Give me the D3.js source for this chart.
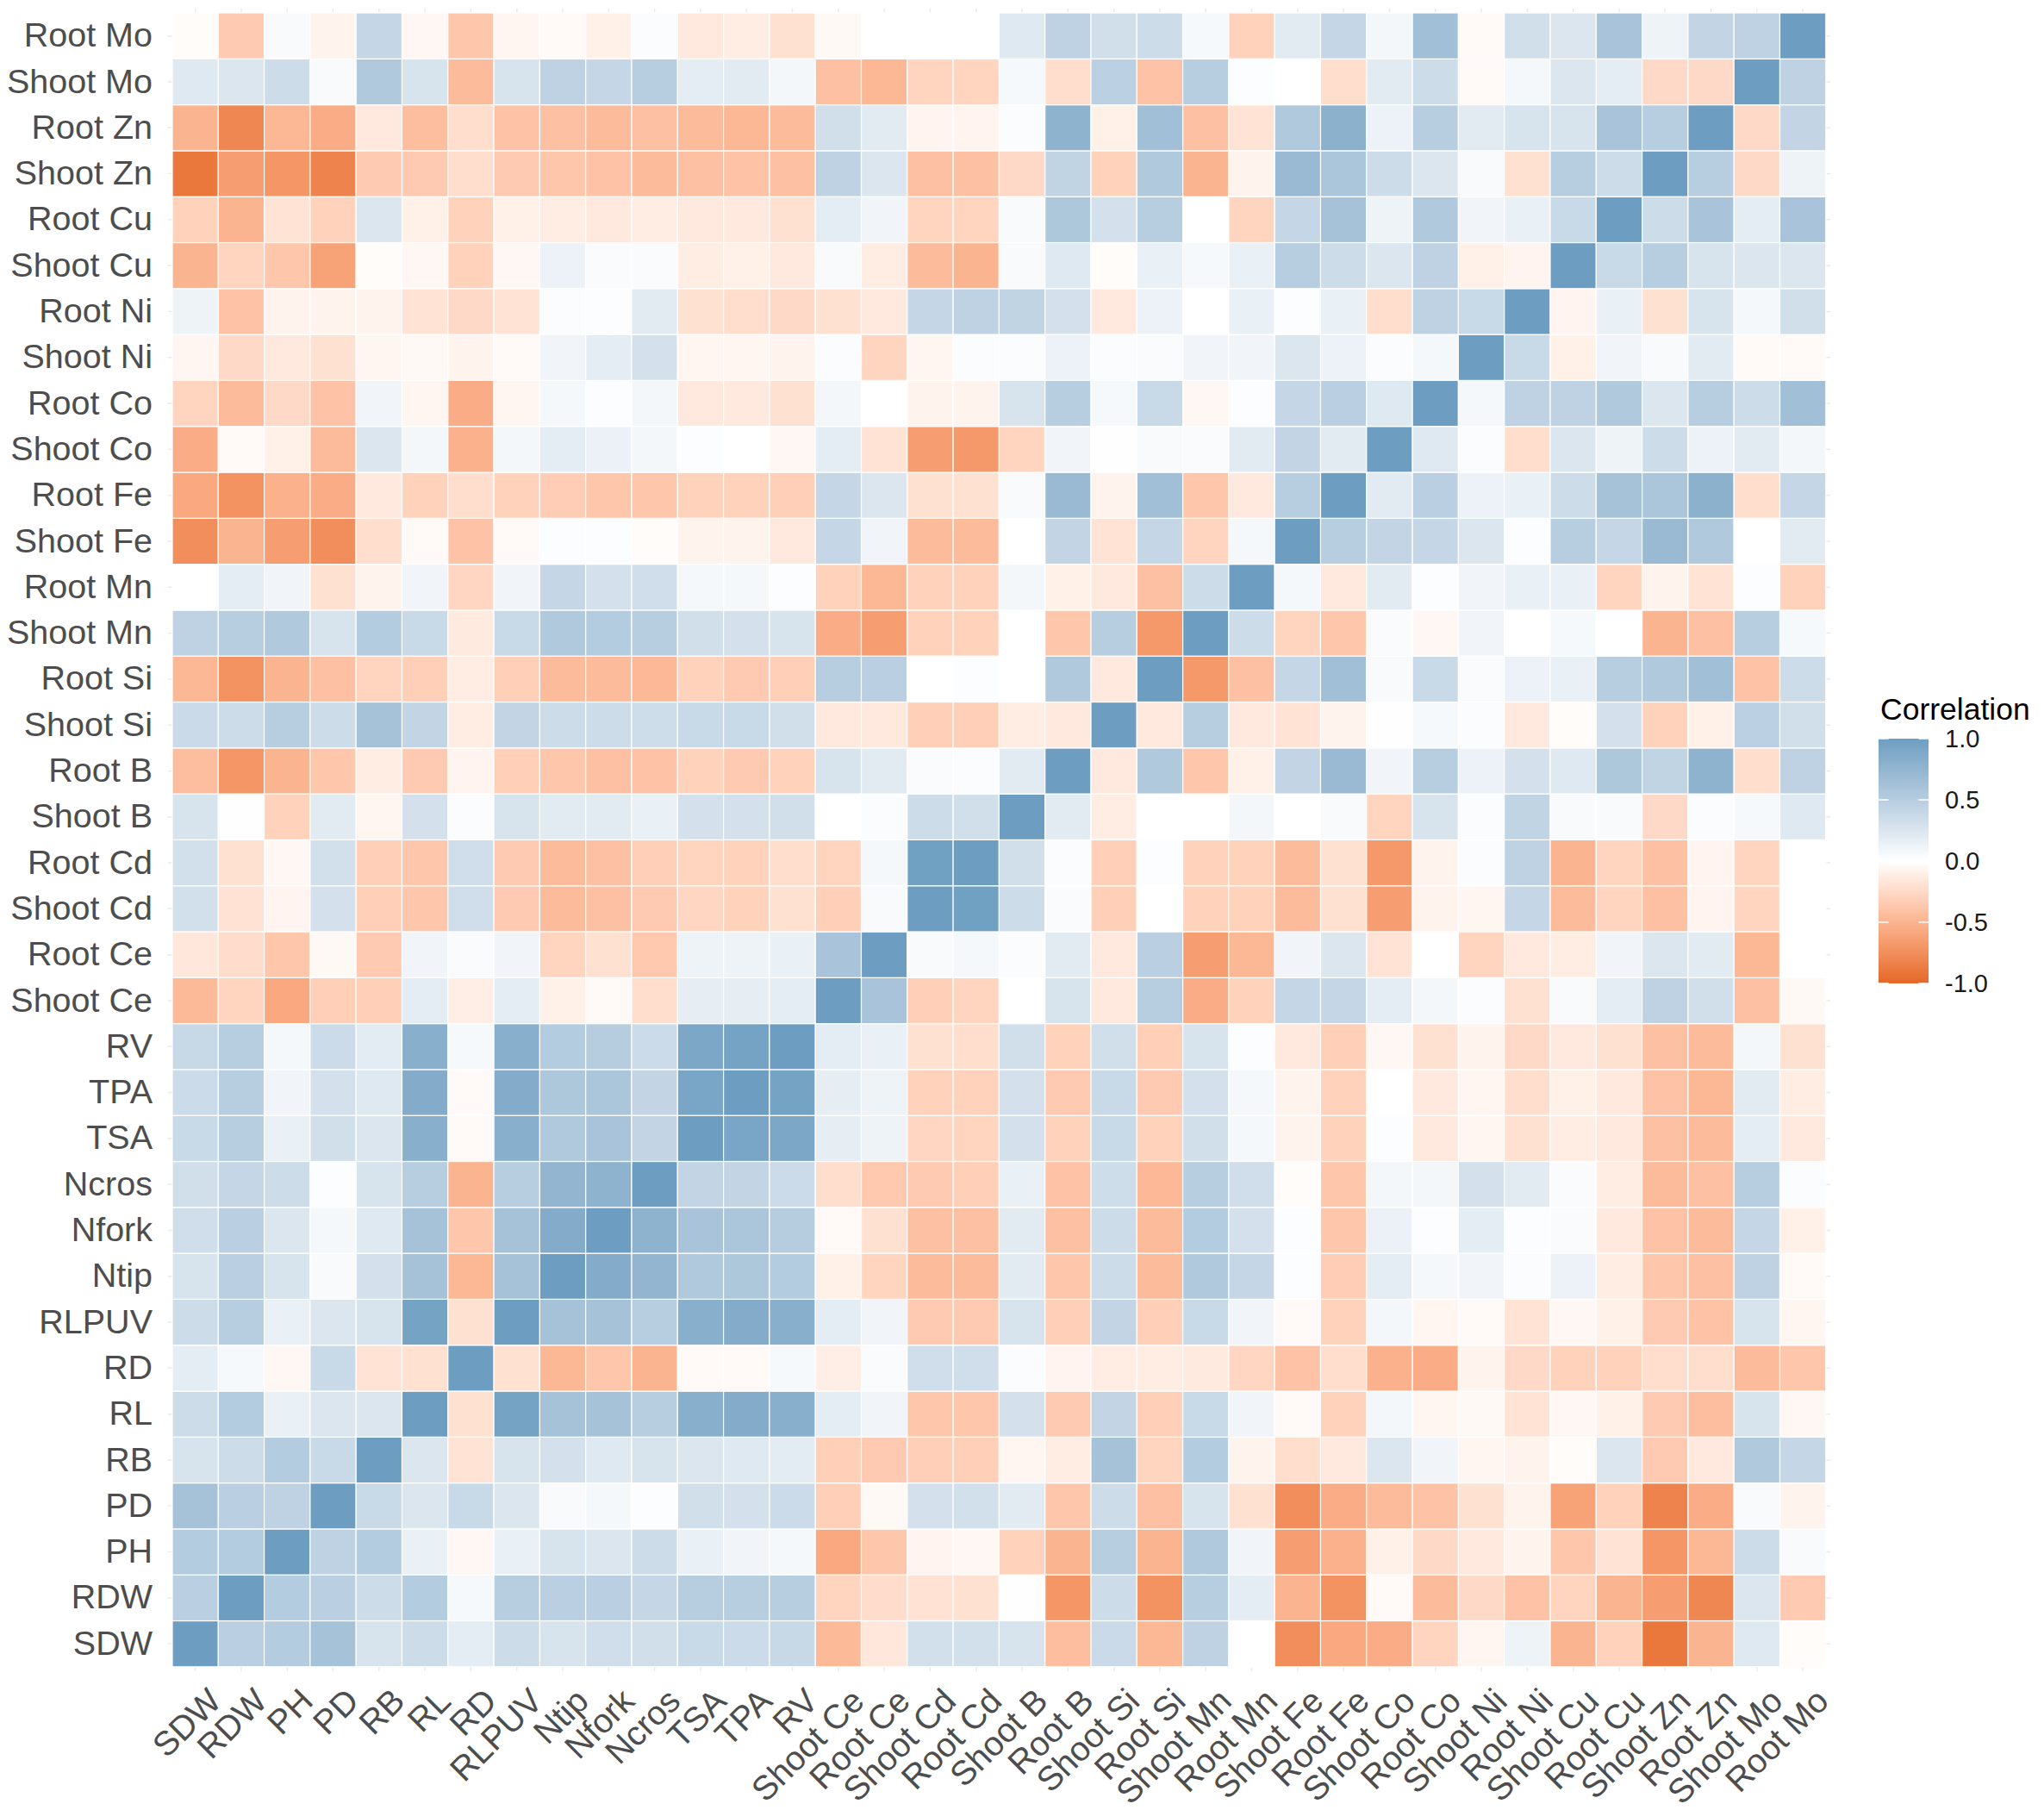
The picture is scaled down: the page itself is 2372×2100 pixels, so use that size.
<!DOCTYPE html>
<html>
<head>
<meta charset="utf-8">
<script src="https://cdn.jsdelivr.net/npm/d3@7/dist/d3.min.js"></script>
<style>
  body { margin: 0; background: #fff; }
  text { font-family: "Liberation Sans", Arial, sans-serif; }
</style>
</head>
<body>
<div id="chart"></div>
<script>
// variables, in x-axis order (y axis runs the same list bottom -> top)
var varNames = ["SDW", "RDW", "PH", "PD", "RB", "RL", "RD", "RLPUV", "Ntip", "Nfork",
  "Ncros", "TSA", "TPA", "RV", "Shoot Ce", "Root Ce", "Shoot Cd", "Root Cd", "Shoot B",
  "Root B", "Shoot Si", "Root Si", "Shoot Mn", "Root Mn", "Shoot Fe", "Root Fe", "Shoot Co",
  "Root Co", "Shoot Ni", "Root Ni", "Shoot Cu", "Root Cu", "Shoot Zn", "Root Zn",
  "Shoot Mo", "Root Mo"];

var legendTicks = [1.0, 0.5, 0.0, -0.5, -1.0];

// lower triangle: corrLower[i][j] = r(varNames[i], varNames[j]) for j < i
var corrLower = [
  [],
  [0.48],
  [0.52, 0.52],
  [0.62, 0.48, 0.45],
  [0.28, 0.35, 0.52, 0.38],
  [0.35, 0.52, 0.15, 0.25, 0.25],
  [0.18, 0.06, -0.05, 0.38, -0.18, -0.2],
  [0.35, 0.5, 0.15, 0.25, 0.28, 0.95, -0.2],
  [0.28, 0.48, 0.28, 0.05, 0.3, 0.62, -0.48, 0.62],
  [0.33, 0.48, 0.25, 0.07, 0.22, 0.62, -0.38, 0.62, 0.85],
  [0.32, 0.4, 0.35, 0.02, 0.28, 0.5, -0.5, 0.5, 0.75, 0.78],
  [0.38, 0.5, 0.15, 0.32, 0.25, 0.82, -0.03, 0.82, 0.55, 0.6, 0.42],
  [0.36, 0.5, 0.1, 0.3, 0.22, 0.85, -0.03, 0.85, 0.57, 0.58, 0.42, 0.92],
  [0.39, 0.5, 0.07, 0.36, 0.19, 0.82, 0.06, 0.82, 0.52, 0.51, 0.36, 0.9, 0.95],
  [-0.46, -0.28, -0.58, -0.32, -0.32, 0.18, -0.11, 0.18, -0.1, -0.03, -0.22, 0.17, 0.17, 0.18],
  [-0.16, -0.23, -0.38, -0.04, -0.35, 0.1, 0.04, 0.1, -0.28, -0.2, -0.36, 0.12, 0.12, 0.15, 0.6],
  [0.31, -0.19, -0.07, 0.3, -0.32, -0.38, 0.33, -0.35, -0.45, -0.42, -0.35, -0.27, -0.3, -0.2,
    -0.32, 0.05],
  [0.31, -0.2, -0.05, 0.31, -0.32, -0.38, 0.33, -0.35, -0.45, -0.42, -0.32, -0.28, -0.3, -0.22,
    -0.28, 0.07, 0.98],
  [0.28, 0.01, -0.3, 0.2, -0.06, 0.3, 0.03, 0.28, 0.2, 0.2, 0.15, 0.3, 0.3, 0.32, 0.0, 0.03,
    0.35, 0.32],
  [-0.43, -0.7, -0.5, -0.38, -0.12, -0.35, -0.07, -0.32, -0.38, -0.42, -0.4, -0.3, -0.35, -0.3,
    0.28, 0.2, 0.04, 0.03, 0.2],
  [0.37, 0.35, 0.5, 0.35, 0.62, 0.42, -0.12, 0.42, 0.35, 0.35, 0.34, 0.38, 0.38, 0.32, -0.15,
    -0.15, -0.32, -0.32, -0.12, -0.15],
  [-0.48, -0.72, -0.5, -0.42, -0.28, -0.32, -0.12, -0.32, -0.45, -0.45, -0.47, -0.3, -0.35,
    -0.32, 0.5, 0.48, 0.0, 0.02, 0.0, 0.55, -0.15],
  [0.45, 0.5, 0.55, 0.28, 0.52, 0.38, -0.14, 0.38, 0.55, 0.52, 0.5, 0.32, 0.3, 0.28, -0.55,
    -0.65, -0.3, -0.3, 0.0, -0.38, 0.5, -0.68],
  [0.0, 0.18, 0.1, -0.2, -0.08, 0.1, -0.27, 0.1, 0.4, 0.3, 0.33, 0.07, 0.07, 0.02, -0.3, -0.48,
    -0.3, -0.3, 0.08, -0.1, -0.15, -0.42, 0.35],
  [-0.75, -0.5, -0.65, -0.75, -0.22, -0.03, -0.4, -0.03, 0.02, 0.02, -0.02, -0.08, -0.08,
    -0.15, 0.4, 0.1, -0.45, -0.45, 0.0, 0.42, -0.18, 0.4, -0.28, 0.07],
  [-0.58, -0.72, -0.52, -0.55, -0.15, -0.3, -0.22, -0.3, -0.33, -0.38, -0.38, -0.3, -0.3,
    -0.32, 0.4, 0.25, -0.2, -0.2, 0.05, 0.7, -0.08, 0.65, -0.38, -0.15, 0.5],
  [-0.55, -0.03, -0.1, -0.45, 0.25, 0.08, -0.52, 0.08, 0.18, 0.14, 0.08, 0.02, 0.0, -0.05,
    0.18, -0.18, -0.65, -0.68, -0.28, 0.1, 0.01, 0.05, 0.04, 0.2, 0.42, 0.2],
  [-0.28, -0.45, -0.25, -0.4, 0.1, -0.06, -0.55, -0.06, 0.07, 0.02, 0.08, -0.15, -0.15, -0.2,
    0.08, 0.0, -0.08, -0.08, 0.28, 0.5, 0.06, 0.38, -0.05, 0.02, 0.4, 0.48, 0.22],
  [-0.06, -0.25, -0.15, -0.2, -0.06, -0.04, -0.08, -0.03, 0.1, 0.18, 0.3, -0.06, -0.06, -0.08,
    0.03, -0.28, -0.06, 0.03, 0.03, 0.13, 0.03, 0.04, 0.1, 0.1, 0.25, 0.13, 0.03, 0.07],
  [0.12, -0.4, -0.08, -0.08, -0.08, -0.18, -0.25, -0.18, 0.03, 0.02, 0.2, -0.2, -0.22, -0.25,
    -0.2, -0.15, 0.4, 0.45, 0.43, 0.3, -0.15, 0.13, 0.0, 0.15, 0.02, 0.15, -0.22, 0.45, 0.38],
  [-0.5, -0.28, -0.38, -0.62, -0.02, -0.05, -0.3, -0.05, 0.13, 0.04, 0.04, -0.12, -0.1, -0.15,
    0.05, -0.12, -0.45, -0.5, 0.05, 0.22, -0.02, 0.15, 0.06, 0.15, 0.5, 0.35, 0.25, 0.45,
    -0.1, -0.07],
  [-0.3, -0.5, -0.18, -0.3, 0.25, -0.1, -0.3, -0.1, -0.12, -0.15, -0.12, -0.15, -0.15, -0.2,
    0.18, 0.1, -0.28, -0.28, 0.05, 0.57, 0.3, 0.5, 0.0, -0.28, 0.4, 0.62, 0.12, 0.55, 0.1,
    0.15, 0.38],
  [-0.9, -0.65, -0.7, -0.82, -0.35, -0.35, -0.22, -0.35, -0.38, -0.4, -0.45, -0.42, -0.4,
    -0.42, 0.45, 0.25, -0.42, -0.42, -0.25, 0.43, -0.3, 0.55, -0.5, -0.08, 0.7, 0.58, 0.35,
    0.25, 0.05, -0.2, 0.5, 0.35],
  [-0.5, -0.8, -0.48, -0.55, -0.15, -0.43, -0.22, -0.4, -0.42, -0.45, -0.42, -0.45, -0.48,
    -0.45, 0.32, 0.2, -0.07, -0.07, 0.03, 0.78, -0.1, 0.65, -0.42, -0.18, 0.55, 0.8, 0.13,
    0.5, 0.2, 0.28, 0.28, 0.6, 0.5],
  [0.22, 0.25, 0.35, 0.05, 0.55, 0.28, -0.45, 0.28, 0.45, 0.4, 0.5, 0.18, 0.2, 0.08, -0.42,
    -0.48, -0.28, -0.28, 0.06, -0.22, 0.47, -0.4, 0.5, 0.02, 0.0, -0.22, 0.2, 0.35, -0.03,
    0.07, 0.25, 0.18, -0.25, -0.25],
  [-0.02, -0.35, 0.05, -0.08, 0.4, -0.05, -0.38, -0.06, -0.03, -0.1, 0.03, -0.15, -0.12, -0.2,
    -0.04, 0.0, 0.0, 0.0, 0.22, 0.45, 0.32, 0.35, 0.06, -0.3, 0.2, 0.4, 0.08, 0.65, -0.03,
    0.32, 0.25, 0.6, 0.12, 0.42, 0.45]
];

var W = 2372, H = 2100;
var margin = {top: 15, left: 200};
var cellSize = 53.3;
var n = varNames.length;
var side = cellSize * n;
var axisFont = 39.5;

var svg = d3.select("#chart").append("svg")
  .attr("width", W)
  .attr("height", H)
  .style("background", "#fff");

var x = d3.scaleBand().domain(varNames).range([margin.left, margin.left + side]);
var y = d3.scaleBand().domain(varNames.slice().reverse()).range([margin.top, margin.top + side]);

var color = d3.scaleLinear()
  .domain([-1, 0, 1])
  .range(["#E46726", "#FFFFFF", "#6D9EC1"])
  .interpolate(d3.interpolateLab);

function corr(i, j) {
  if (i === j) return 1;
  return i > j ? corrLower[i][j] : corrLower[j][i];
}

var cells = [];
varNames.forEach(function(rowVar, i) {
  varNames.forEach(function(colVar, j) {
    cells.push({row: rowVar, col: colVar, value: corr(i, j)});
  });
});

// faint panel grid (theme_minimal), mostly hidden under the tiles
var ext = cellSize * 0.1;
var grid = svg.append("g").attr("class", "grid");
grid.selectAll("line.v").data(varNames).enter().append("line")
  .attr("x1", function(d) { return x(d) + x.bandwidth() / 2; })
  .attr("x2", function(d) { return x(d) + x.bandwidth() / 2; })
  .attr("y1", margin.top - ext)
  .attr("y2", margin.top + side + ext)
  .attr("stroke", "#ebebeb").attr("stroke-width", 1.5);
grid.selectAll("line.h").data(varNames).enter().append("line")
  .attr("y1", function(d) { return y(d) + y.bandwidth() / 2; })
  .attr("y2", function(d) { return y(d) + y.bandwidth() / 2; })
  .attr("x1", margin.left - ext)
  .attr("x2", margin.left + side + ext)
  .attr("stroke", "#ebebeb").attr("stroke-width", 1.5);

svg.append("g").attr("class", "tiles")
  .selectAll("rect")
  .data(cells)
  .enter().append("rect")
  .attr("x", function(d) { return x(d.col); })
  .attr("y", function(d) { return y(d.row); })
  .attr("width", x.bandwidth())
  .attr("height", y.bandwidth())
  .attr("fill", function(d) { return color(d.value); })
  .attr("stroke", "#fff")
  .attr("stroke-width", 1.2);

// y axis
var yAxis = svg.append("g")
  .attr("transform", "translate(" + margin.left + ",0)")
  .call(d3.axisLeft(y).tickSize(0).tickPadding(23));
yAxis.select(".domain").remove();
yAxis.selectAll("text")
  .attr("font-size", axisFont)
  .attr("fill", "#4d4d4d")
  .attr("font-family", "Liberation Sans, Arial, sans-serif");

// x axis, labels at 45 degrees
var xAxis = svg.append("g")
  .attr("transform", "translate(0," + (margin.top + side) + ")")
  .call(d3.axisBottom(x).tickSize(0));
xAxis.select(".domain").remove();
xAxis.selectAll("text")
  .attr("font-size", axisFont)
  .attr("fill", "#4d4d4d")
  .attr("font-family", "Liberation Sans, Arial, sans-serif")
  .attr("text-anchor", "end")
  .attr("x", 0)
  .attr("y", 0)
  .attr("dy", "0.72em")
  .attr("transform", "translate(12,22) rotate(-45)");

// legend
var legX = 2180, legTop = 857, legH = 284, legW = 58;
var legScale = d3.scaleLinear().domain([-1, 1]).range([legTop + legH, legTop]);

var defs = svg.append("defs");
var grad = defs.append("linearGradient")
  .attr("id", "corrGrad")
  .attr("x1", "0").attr("y1", "1").attr("x2", "0").attr("y2", "0");
d3.range(0, 21).forEach(function(k) {
  var v = -1 + k * 0.1;
  grad.append("stop")
    .attr("offset", (k / 20 * 100) + "%")
    .attr("stop-color", color(v));
});

var legend = svg.append("g").attr("class", "legend");
legend.append("text")
  .attr("x", legX + 2)
  .attr("y", 835)
  .attr("font-size", 35.5)
  .attr("fill", "#000")
  .text("Correlation");

legend.append("rect")
  .attr("x", legX)
  .attr("y", legTop)
  .attr("width", legW)
  .attr("height", legH)
  .attr("fill", "url(#corrGrad)");

legend.selectAll("line.tl").data(legendTicks).enter().append("line")
  .attr("x1", legX).attr("x2", legX + legW * 0.2)
  .attr("y1", function(d) { return legScale(d); })
  .attr("y2", function(d) { return legScale(d); })
  .attr("stroke", "#fff").attr("stroke-width", 1.5);
legend.selectAll("line.tr").data(legendTicks).enter().append("line")
  .attr("x1", legX + legW * 0.8).attr("x2", legX + legW)
  .attr("y1", function(d) { return legScale(d); })
  .attr("y2", function(d) { return legScale(d); })
  .attr("stroke", "#fff").attr("stroke-width", 1.5);

// ASCII hyphen for negatives, as in the original legend
var fmt = d3.formatLocale({decimal: ".", thousands: ",", grouping: [3], currency: ["", ""], minus: "-"}).format(".1f");
legend.selectAll("text.lab").data(legendTicks).enter().append("text")
  .attr("class", "lab")
  .attr("x", legX + legW + 19)
  .attr("y", function(d) { return legScale(d); })
  .attr("dy", "0.36em")
  .attr("font-size", 29)
  .attr("fill", "#1a1a1a")
  .text(function(d) { return fmt(d); });
</script>
</body>
</html>
